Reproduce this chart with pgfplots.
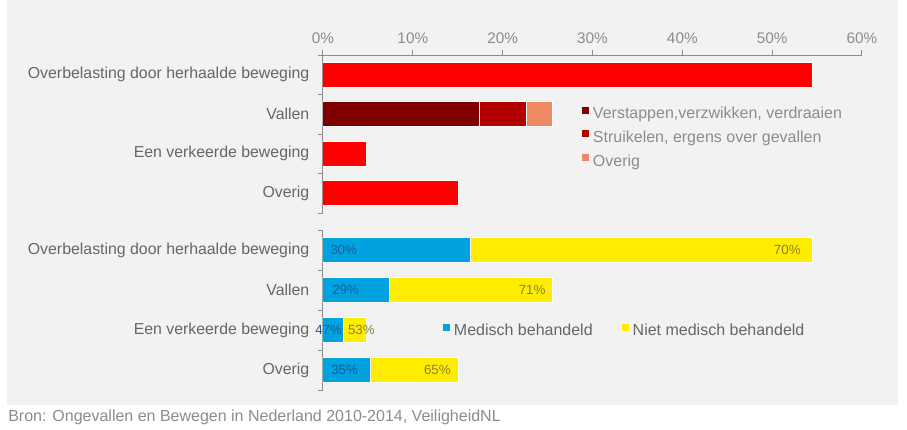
\documentclass[border=0pt]{standalone}
\usepackage{pgfplots}
\pgfplotsset{compat=1.18}
\usepackage{fontspec}
\setmainfont{Liberation Sans}
\definecolor{bg}{HTML}{F2F2F2}
\definecolor{axisgrey}{HTML}{8C8C8C}
\definecolor{ticktext}{HTML}{8C8C8C}
\definecolor{cattext}{HTML}{666666}
\definecolor{legtext}{HTML}{8C8C8C}
\definecolor{legtextb}{HTML}{666666}
\definecolor{cred}{HTML}{FF0000}
\definecolor{cdarkred}{HTML}{7F0000}
\definecolor{cmidred}{HTML}{B20000}
\definecolor{corange}{HTML}{EE8A63}
\definecolor{cblue}{HTML}{00A3E0}
\definecolor{cyellow}{HTML}{FFEC00}
\definecolor{lblblue}{HTML}{1F5A96}
\definecolor{lblyellow}{HTML}{8C8030}
\pgfplotsset{
  common/.style={
    xbar,
    scale only axis, width=404.25pt,
    xmin=0, xmax=60, ymin=-0.5, ymax=3.5,
    bar width=0.63,
    axis line style={draw=axisgrey, line width=0.75pt, -},
    tick align=outside,
    tick style={draw=axisgrey, line width=0.75pt},
    major tick length=3.75pt, minor tick length=3.75pt,
    ytick={0,1,2,3},
    yticklabels={Overig, Een verkeerde beweging, Vallen, Overbelasting door herhaalde beweging},
    minor ytick={-0.5,0.5,1.5,2.5,3.5},
    major y tick style={draw=none},
    yticklabel style={font=\fontsize{11.9}{14}\selectfont, text=cattext, xshift=-3pt},
    legend image code/.code={\fill[#1,draw=none] (0pt,0.6pt) rectangle (5.25pt,5.85pt);},
  },
}
\begin{document}
\begin{tikzpicture}
\path[fill=white,use as bounding box] (0,0) rectangle (680.25pt,-321.75pt);
\fill[bg] (5.25pt,0) rectangle (673.5pt,-303.75pt);

% top panel
\begin{axis}[
  common,
  at={(242.25pt,-41.25pt)}, anchor=north west, height=118.5pt,
  axis x line*=top, axis y line*=left,
  xtick={0,10,...,60},
  xticklabels={0\%,10\%,20\%,30\%,40\%,50\%,60\%},
  xticklabel style={font=\fontsize{11.5}{13}\selectfont, text=ticktext, yshift=1.5pt},
  reverse legend,
  legend cell align=left,
  legend style={at={(0.4805,0.673)}, anchor=north west, draw=none, fill=none,
    inner sep=0pt, outer sep=0pt, font=\fontsize{12}{14}\selectfont, text=legtext,
    row sep=6.1pt, column sep=3pt,
    nodes={inner sep=0pt, text height=9pt, text depth=2.5pt}},
]
\addplot[fill=cred, draw=white, line width=0.75pt, bar shift=0pt, forget plot]
  coordinates {(54.5,3) (4.8,1) (15.1,0)};
\addplot[fill=corange, draw=white, line width=0.75pt, bar shift=0pt]
  coordinates {(25.5,2)};
\addlegendentry{Overig}
\addplot[fill=cmidred, draw=white, line width=0.75pt, bar shift=0pt]
  coordinates {(22.6,2)};
\addlegendentry{Struikelen, ergens over gevallen}
\addplot[fill=cdarkred, draw=white, line width=0.75pt, bar shift=0pt]
  coordinates {(17.4,2)};
\addlegendentry{Verstappen,verzwikken, verdraaien}
\end{axis}

% bottom panel
\begin{axis}[
  common,
  at={(242.25pt,-172.5pt)}, anchor=north west, height=120pt,
  axis x line=none, axis y line*=left,
  reverse legend,
  legend columns=2,
  legend cell align=left,
  legend style={at={(0.2226,0.414)}, anchor=north west, draw=none, fill=none,
    inner sep=0pt, outer sep=0pt, font=\fontsize{12}{14}\selectfont, text=legtextb,
    column sep=3pt,
    /tikz/every even column/.append style={column sep=21.75pt},
    nodes={inner sep=0pt, text height=9pt, text depth=2.5pt}},
]
\addplot[fill=cyellow, draw=white, line width=0.75pt, bar shift=0pt]
  coordinates {(54.5,3) (25.5,2) (4.8,1) (15.1,0)};
\addlegendentry{Niet medisch behandeld}
\addplot[fill=cblue, draw=white, line width=0.75pt, bar shift=0pt]
  coordinates {(16.4,3) (7.4,2) (2.3,1) (5.3,0)};
\addlegendentry{Medisch behandeld}
\end{axis}

% labels on bottom bars
\begin{axis}[
  scale only axis, width=404.25pt, height=120pt,
  at={(242.25pt,-172.5pt)}, anchor=north west,
  xmin=0, xmax=60, ymin=-0.5, ymax=3.5,
  hide axis, clip=false,
]
\addplot[draw=none, point meta=explicit symbolic,
  nodes near coords={\pgfplotspointmeta\%},
  nodes near coords style={anchor=west, inner sep=0pt, font=\fontsize{10}{12}\selectfont, text=lblblue}]
  table[meta=lab] {
x y lab
0.78 3 30
1.0 2 29
-0.89 1 47
0.89 0 35
};
\addplot[draw=none, point meta=explicit symbolic,
  nodes near coords={\pgfplotspointmeta\%},
  nodes near coords style={anchor=east, inner sep=0pt, font=\fontsize{10}{12}\selectfont, text=lblyellow}]
  table[meta=lab] {
x y lab
53.2 3 70
24.8 2 71
5.79 1 53
14.25 0 65
};
\end{axis}

\node[anchor=base west, inner sep=0pt, text=axisgrey, font=\fontsize{12}{14}\selectfont]
  at (6pt,-315.75pt) {Bron: Ongevallen en Bewegen in Nederland 2010-2014, VeiligheidNL};
\end{tikzpicture}
\end{document}
